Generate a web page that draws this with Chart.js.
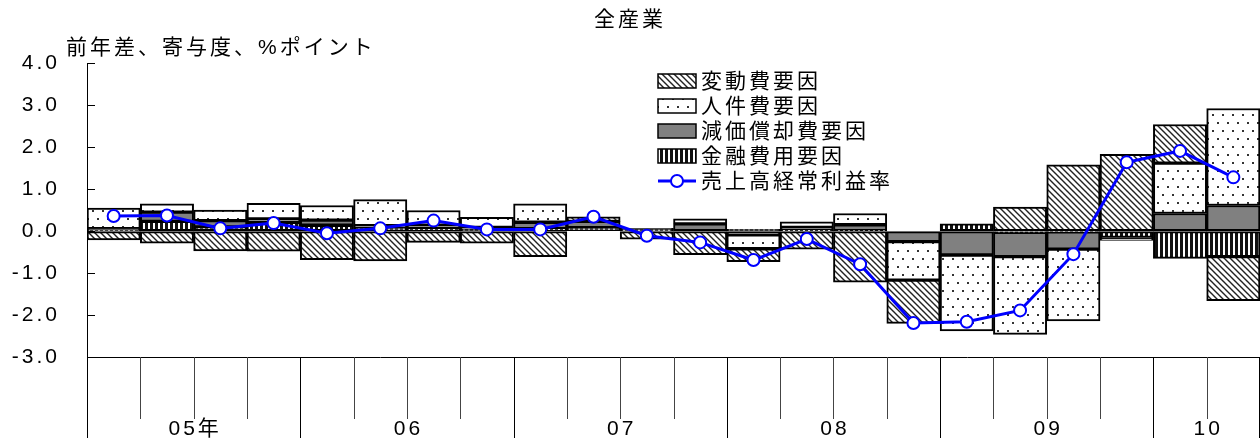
<!DOCTYPE html>
<html>
<head>
<meta charset="utf-8">
<script src="https://cdn.jsdelivr.net/npm/chart.js@4"></script>
<style>
  html, body { margin: 0; padding: 0; background: #fff; }
  #wrap { width: 1260px; height: 438px; }
</style>
</head>
<body>
<div id="wrap"><canvas id="c"></canvas></div>
<script>
// quarters 2005Q1 .. 2010Q2
const quarters = ['05Q1','05Q2','05Q3','05Q4','06Q1','06Q2','06Q3','06Q4','07Q1','07Q2','07Q3','07Q4',
                  '08Q1','08Q2','08Q3','08Q4','09Q1','09Q2','09Q3','09Q4','10Q1','10Q2'];
const yearLabels = ['05年', '06', '07', '08', '09', '10'];
const yearQuarters = [4, 4, 4, 4, 4, 2];

const seriesNames = ['金融費用要因', '減価償却費要因', '人件費要因', '変動費要因', '売上高経常利益率'];

// stacking order from zero outward: 金融, 減価償却, 人件費, 変動費
const kinyu = [0.03, 0.23, 0.10, 0.21, 0.14, 0.08, 0.07, 0.04, 0.06, 0.08, 0.035, 0.0,
               0.04, 0.02, 0.01, 0.0, 0.17, -0.03, -0.02, -0.15, -0.65, -0.61];
const genka = [0.03, 0.22, 0.15, 0.08, 0.12, 0.05, 0.07, 0.05, 0.15, 0.15, 0.03, 0.17,
               -0.09, 0.07, 0.14, -0.25, -0.57, -0.58, -0.41, -0.02, 0.42, 0.61];
const jinken = [0.49, 0.20, 0.25, 0.37, 0.35, 0.62, 0.35, 0.24, 0.44, 0.0, 0.0, 0.12,
                -0.33, 0.13, 0.27, -0.92, -1.81, -1.85, -1.71, -0.05, 1.20, 2.31];
const hendo = [-0.21, -0.29, -0.47, -0.48, -0.68, -0.71, -0.27, -0.29, -0.61, 0.11, -0.19, -0.56,
               -0.31, -0.43, -1.22, -1.03, 0.0, 0.57, 1.58, 1.83, 0.92, -1.05];
const rieki = [0.36, 0.37, 0.065, 0.19, -0.05, 0.065, 0.25, 0.04, 0.04, 0.34, -0.11, -0.27,
               -0.69, -0.19, -0.79, -2.19, -2.16, -1.89, -0.55, 1.64, 1.91, 1.28];

const yMin = -3, yMax = 4;

const FONT = '"Liberation Sans", "Noto Sans CJK JP", sans-serif';
const SPACING = '3px';

function makePattern(kind) {
    const c = document.createElement('canvas');
    const g = c.getContext('2d');
    if (kind === 'hatch') {
        c.width = 6; c.height = 6;
        g.fillStyle = '#fff'; g.fillRect(0, 0, 6, 6);
        g.strokeStyle = '#222'; g.lineWidth = 1.4;
        g.beginPath();
        g.moveTo(-1, -1); g.lineTo(7, 7);
        g.moveTo(-1, 5); g.lineTo(1, 7);
        g.moveTo(5, -1); g.lineTo(7, 1);
        g.stroke();
    } else if (kind === 'dots') {
        c.width = 10; c.height = 16;
        g.fillStyle = '#fff'; g.fillRect(0, 0, 10, 16);
        g.fillStyle = '#333';
        g.fillRect(2, 2, 2, 2);
        g.fillRect(7, 10, 2, 2);
    } else if (kind === 'stripes') {
        c.width = 5; c.height = 4;
        g.fillStyle = '#fff'; g.fillRect(0, 0, 5, 4);
        g.fillStyle = '#111'; g.fillRect(0, 0, 3, 4);
    }
    return g.createPattern(c, 'repeat');
}

const fills = [makePattern('stripes'), '#808080', makePattern('dots'), makePattern('hatch')];

function barSet(i, data) {
    return {
        type: 'bar',
        label: seriesNames[i],
        data: data,
        backgroundColor: fills[i],
        borderColor: '#000',
        borderWidth: 2,
        borderSkipped: false,
        barPercentage: 1,
        categoryPercentage: 1,
        stack: 's',
        order: 1
    };
}

// legend is drawn in this order
const legendOrder = [3, 2, 1, 0, 4];

const decor = {
    id: 'decor',
    beforeDraw(chart) {
        chart.ctx.letterSpacing = SPACING;
    },
    afterDraw(chart) {
        const ctx = chart.ctx;
        const xs = chart.scales.x, ys = chart.scales.y;
        const area = chart.chartArea;
        ctx.save();
        ctx.letterSpacing = SPACING;
        ctx.fillStyle = '#000';
        ctx.font = '21px ' + FONT;

        // axis unit title
        ctx.textAlign = 'left';
        ctx.textBaseline = 'middle';
        ctx.fillText('前年差、寄与度、%ポイント', 66, 48);

        // inner y ticks
        ctx.strokeStyle = '#000';
        ctx.lineWidth = 1;
        ys.ticks.forEach(t => {
            const y = Math.round(ys.getPixelForValue(t.value)) + 0.5;
            ctx.beginPath();
            ctx.moveTo(area.left, y);
            ctx.lineTo(area.left + 8, y);
            ctx.stroke();
        });

        // x ticks below the axis: quarters short, years long
        const w = xs.getPixelForValue(1) - xs.getPixelForValue(0);
        const edge = i => xs.getPixelForValue(i) - w / 2;
        const yearStarts = [0];
        yearQuarters.forEach(n => yearStarts.push(yearStarts[yearStarts.length - 1] + n));
        for (let i = 0; i <= quarters.length; i++) {
            let x = Math.round(edge(i)) + 0.5;
            if (x > chart.width) x = chart.width - 0.5;
            const isYear = yearStarts.includes(i);
            ctx.strokeStyle = isYear ? '#000' : '#444';
            ctx.beginPath();
            ctx.moveTo(x, area.bottom);
            ctx.lineTo(x, isYear ? chart.height : area.bottom + 62);
            ctx.stroke();
        }
        ctx.textAlign = 'center';
        yearLabels.forEach((lab, k) => {
            const cx = (edge(yearStarts[k]) + edge(yearStarts[k + 1])) / 2;
            ctx.fillText(lab, cx + 1.5, 429);
        });

        // legend
        const lx = 658, lw = 38;
        ctx.textAlign = 'left';
        legendOrder.forEach((di, r) => {
            const cy = 81 + r * 25;
            const ds = chart.data.datasets[di];
            if (ds.type === 'line') {
                ctx.strokeStyle = ds.borderColor;
                ctx.lineWidth = 3;
                ctx.beginPath();
                ctx.moveTo(lx, cy); ctx.lineTo(lx + lw, cy);
                ctx.stroke();
                ctx.beginPath();
                ctx.arc(lx + lw / 2, cy, 6, 0, Math.PI * 2);
                ctx.fillStyle = '#fff';
                ctx.fill();
                ctx.lineWidth = 2;
                ctx.stroke();
            } else {
                ctx.fillStyle = ds.backgroundColor;
                ctx.fillRect(lx, cy - 7, lw, 14);
                ctx.strokeStyle = '#000';
                ctx.lineWidth = 1.5;
                ctx.strokeRect(lx, cy - 7, lw, 14);
            }
            ctx.fillStyle = '#000';
            ctx.fillText(ds.label, lx + lw + 5, cy + 1);
        });
        ctx.restore();
    }
};

new Chart(document.getElementById('c'), {
    data: {
        labels: quarters,
        datasets: [
            barSet(0, kinyu),
            barSet(1, genka),
            barSet(2, jinken),
            barSet(3, hendo),
            {
                type: 'line',
                label: seriesNames[4],
                data: rieki,
                borderColor: '#0000FF',
                borderWidth: 3,
                pointRadius: 6,
                pointBackgroundColor: '#fff',
                pointBorderColor: '#0000FF',
                pointBorderWidth: 2,
                tension: 0,
                order: 0
            }
        ]
    },
    options: {
        responsive: true,
        maintainAspectRatio: false,
        animation: false,
        layout: { autoPadding: false, padding: { left: 0, right: 0, top: 0, bottom: 73 } },
        plugins: {
            legend: { display: false },
            tooltip: { enabled: false },
            title: {
                display: true,
                text: '全産業',
                color: '#000',
                font: { family: FONT, size: 21, weight: 'normal' },
                padding: { top: 8, bottom: 30 }
            }
        },
        scales: {
            x: {
                offset: true,
                stacked: true,
                ticks: { display: false },
                grid: { display: false },
                border: { display: true, color: '#000', width: 1 }
            },
            y: {
                stacked: true,
                min: yMin,
                max: yMax,
                ticks: {
                    stepSize: 1,
                    color: '#000',
                    padding: 27,
                    font: { family: FONT, size: 21 },
                    callback: v => v.toFixed(1)
                },
                grid: { display: true, drawOnChartArea: false, drawTicks: false },
                border: { display: true, color: '#000', width: 1 },
                afterFit: s => { s.width = 87; }
            }
        }
    },
    plugins: [decor]
});
</script>
</body>
</html>
